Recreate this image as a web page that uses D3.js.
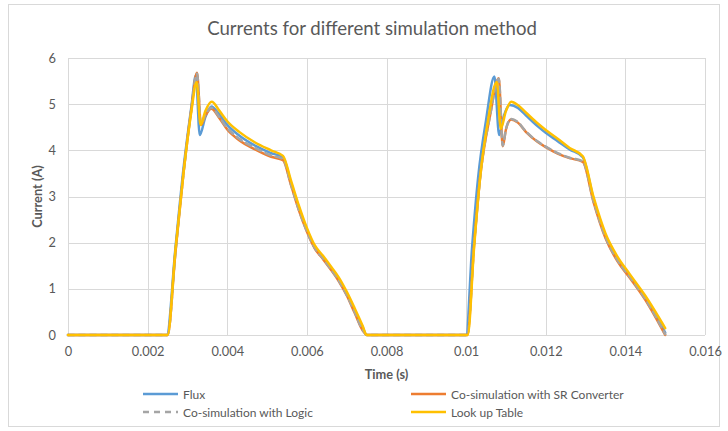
<!DOCTYPE html>
<html><head><meta charset="utf-8">
<script src="https://cdn.jsdelivr.net/npm/d3@7"></script>
<style>html,body{margin:0;padding:0;background:#fff;}svg{display:block;font-family:Lato,"Open Sans",sans-serif;}</style>
</head><body><svg id="c" width="728" height="431"></svg>
<script>
const titleText = "Currents for different simulation method";
const xTicks = [0, 0.002, 0.004, 0.006, 0.008, 0.01, 0.012, 0.014, 0.016];
const yTicks = [0, 1, 2, 3, 4, 5, 6];
const seriesNames = ["Flux", "Co-simulation with SR Converter", "Co-simulation with Logic", "Look up Table"];

// [time (s), current (A)]
const flux = [[0,0],[0.00248,0],[0.0027,1.9],[0.0029,3.6],[0.0031,4.95],[0.00321,5.62],[0.00331,4.33],[0.00345,4.72],[0.0036,4.95],[0.0038,4.78],[0.004,4.55],[0.0043,4.32],[0.0047,4.1],[0.0051,3.94],[0.0054,3.85],[0.0056,3.3],[0.0058,2.75],[0.006,2.28],[0.0062,1.9],[0.0064,1.68],[0.0066,1.45],[0.0068,1.21],[0.007,0.9],[0.0072,0.53],[0.0074,0.17],[0.0075,0],[0.01,0],[0.01015,1.9],[0.0103,3.4],[0.0105,4.65],[0.01071,5.6],[0.01083,4.33],[0.01095,4.75],[0.0111,4.98],[0.0113,4.92],[0.0115,4.76],[0.0118,4.52],[0.012,4.38],[0.0123,4.2],[0.0126,4.02],[0.01293,3.85],[0.0132,2.95],[0.0135,2.15],[0.0138,1.66],[0.0141,1.3],[0.0145,0.82],[0.015,0.05]];
const srConverter = [[0,0],[0.0025,0],[0.0027,1.8],[0.0029,3.5],[0.0031,4.9],[0.00324,5.68],[0.00334,4.55],[0.00345,4.75],[0.0036,4.9],[0.0038,4.7],[0.004,4.45],[0.0043,4.22],[0.0047,4.02],[0.0051,3.86],[0.0054,3.79],[0.0056,3.25],[0.0058,2.7],[0.006,2.24],[0.0062,1.87],[0.0064,1.65],[0.0066,1.42],[0.0068,1.17],[0.007,0.86],[0.0072,0.48],[0.0074,0.1],[0.00752,0],[0.01003,0],[0.0102,1.95],[0.01035,3.4],[0.0106,4.75],[0.01082,5.56],[0.01092,4.09],[0.011,4.45],[0.01113,4.67],[0.0113,4.6],[0.0115,4.4],[0.0118,4.18],[0.012,4.07],[0.0123,3.93],[0.0126,3.83],[0.01293,3.75],[0.0132,2.88],[0.0135,2.1],[0.0138,1.6],[0.0141,1.25],[0.0145,0.76],[0.015,0]];
const logic = [[0,0],[0.0025,0],[0.0027,1.8],[0.0029,3.5],[0.0031,4.9],[0.00324,5.66],[0.00334,4.56],[0.00345,4.77],[0.0036,4.92],[0.0038,4.72],[0.004,4.48],[0.0043,4.25],[0.0047,4.05],[0.0051,3.89],[0.0054,3.81],[0.0056,3.26],[0.0058,2.71],[0.006,2.25],[0.0062,1.88],[0.0064,1.66],[0.0066,1.43],[0.0068,1.18],[0.007,0.87],[0.0072,0.5],[0.0074,0.11],[0.00752,0],[0.01003,0],[0.0102,1.95],[0.01035,3.4],[0.0106,4.75],[0.01082,5.55],[0.01092,4.1],[0.011,4.46],[0.01113,4.68],[0.0113,4.61],[0.0115,4.41],[0.0118,4.19],[0.012,4.08],[0.0123,3.94],[0.0126,3.84],[0.01293,3.76],[0.0132,2.9],[0.0135,2.12],[0.0138,1.62],[0.0141,1.27],[0.0145,0.78],[0.015,0.02]];
const lookupTable = [[0,0],[0.0025,0],[0.0027,1.85],[0.0029,3.5],[0.0031,4.85],[0.00323,5.48],[0.00333,4.55],[0.00345,4.85],[0.00361,5.05],[0.0038,4.86],[0.004,4.63],[0.0043,4.4],[0.0047,4.17],[0.0051,4.0],[0.0054,3.88],[0.0056,3.35],[0.0058,2.8],[0.006,2.32],[0.0062,1.94],[0.0064,1.72],[0.0066,1.49],[0.0068,1.25],[0.007,0.94],[0.0072,0.58],[0.0074,0.2],[0.0075,0],[0.01004,0],[0.0102,1.9],[0.01035,3.4],[0.01055,4.65],[0.01077,5.48],[0.01087,4.47],[0.011,4.85],[0.01113,5.05],[0.0113,4.98],[0.0115,4.82],[0.0118,4.58],[0.012,4.44],[0.0123,4.25],[0.0126,4.05],[0.01293,3.87],[0.0132,2.99],[0.0135,2.2],[0.0138,1.7],[0.0141,1.33],[0.0145,0.85],[0.015,0.15]];

const seriesData = [flux, srConverter, logic, lookupTable];
const colors = ["#5B9BD5", "#ED7D31", "#A5A5A5", "#FFC000"];
const dashes = [null, null, "6,5", null];

const svg = d3.select("#c");
const m = {left: 68, right: 705, top: 58, bottom: 335};
const x = d3.scaleLinear().domain([0, 0.016]).range([m.left, m.right]);
const y = d3.scaleLinear().domain([0, 6]).range([m.bottom, m.top]);
const textColor = "#595959";

svg.append("rect").attr("x", 8.5).attr("y", 4.5).attr("width", 711).attr("height", 422)
  .attr("fill", "#fff").attr("stroke", "#D9D9D9").attr("stroke-width", 1);

svg.append("text").attr("x", 372).attr("y", 35).attr("text-anchor", "middle")
  .attr("font-size", 18.6).attr("fill", textColor).text(titleText);

// gridlines
const grid = svg.append("g");
grid.selectAll("line.h").data(yTicks).join("line")
  .attr("x1", m.left).attr("x2", m.right)
  .attr("y1", d => Math.round(y(d)) + 0.5).attr("y2", d => Math.round(y(d)) + 0.5)
  .attr("stroke", "#D9D9D9").attr("stroke-width", 1);
grid.selectAll("line.v").data(xTicks).join("line")
  .attr("y1", m.top).attr("y2", m.bottom)
  .attr("x1", d => Math.round(x(d)) + 0.5).attr("x2", d => Math.round(x(d)) + 0.5)
  .attr("stroke", "#D9D9D9").attr("stroke-width", 1);

// axes (labels only)
const xAxis = svg.append("g").attr("transform", `translate(0,${m.bottom})`)
  .call(d3.axisBottom(x).tickValues(xTicks).tickSize(0).tickPadding(12).tickFormat(d3.format("~g")));
xAxis.select(".domain").remove();
xAxis.selectAll("text").attr("font-size", 12.8).attr("fill", textColor).attr("font-family", "Lato,sans-serif");

const yAxis = svg.append("g").attr("transform", `translate(${m.left},0)`)
  .call(d3.axisLeft(y).tickValues(yTicks).tickSize(0).tickPadding(12).tickFormat(d3.format("d")));
yAxis.select(".domain").remove();
yAxis.selectAll("text").attr("font-size", 12.8).attr("fill", textColor).attr("font-family", "Lato,sans-serif");

svg.append("text").attr("x", (m.left + m.right) / 2).attr("y", 379).attr("text-anchor", "middle")
  .attr("font-size", 12.8).attr("font-weight", "bold").attr("fill", textColor).text("Time (s)");
svg.append("text").attr("transform", `translate(42,${(m.top + m.bottom) / 2}) rotate(-90)`)
  .attr("text-anchor", "middle").attr("font-size", 12.8).attr("font-weight", "bold")
  .attr("fill", textColor).text("Current (A)");

// series
const line = d3.line().x(d => x(d[0])).y(d => y(d[1])).curve(d3.curveMonotoneX);
const plot = svg.append("g");
seriesData.forEach((s, i) => {
  plot.append("path").attr("d", line(s)).attr("fill", "none")
    .attr("stroke", colors[i]).attr("stroke-width", 2.5)
    .attr("stroke-linejoin", "round").attr("stroke-linecap", "round")
    .attr("stroke-dasharray", dashes[i]);
});

// legend
const legPos = [[143, 394], [411, 394], [143, 412], [411, 412]];
seriesNames.forEach((name, i) => {
  const [lx, ly] = legPos[i];
  const g = svg.append("g");
  g.append("line").attr("x1", lx).attr("x2", lx + 35).attr("y1", ly).attr("y2", ly)
    .attr("stroke", colors[i]).attr("stroke-width", 2.5).attr("stroke-dasharray", dashes[i]);
  g.append("text").attr("x", lx + 40).attr("y", ly + 4.5).attr("font-size", 12)
    .attr("fill", textColor).text(name);
});
</script></body></html>
